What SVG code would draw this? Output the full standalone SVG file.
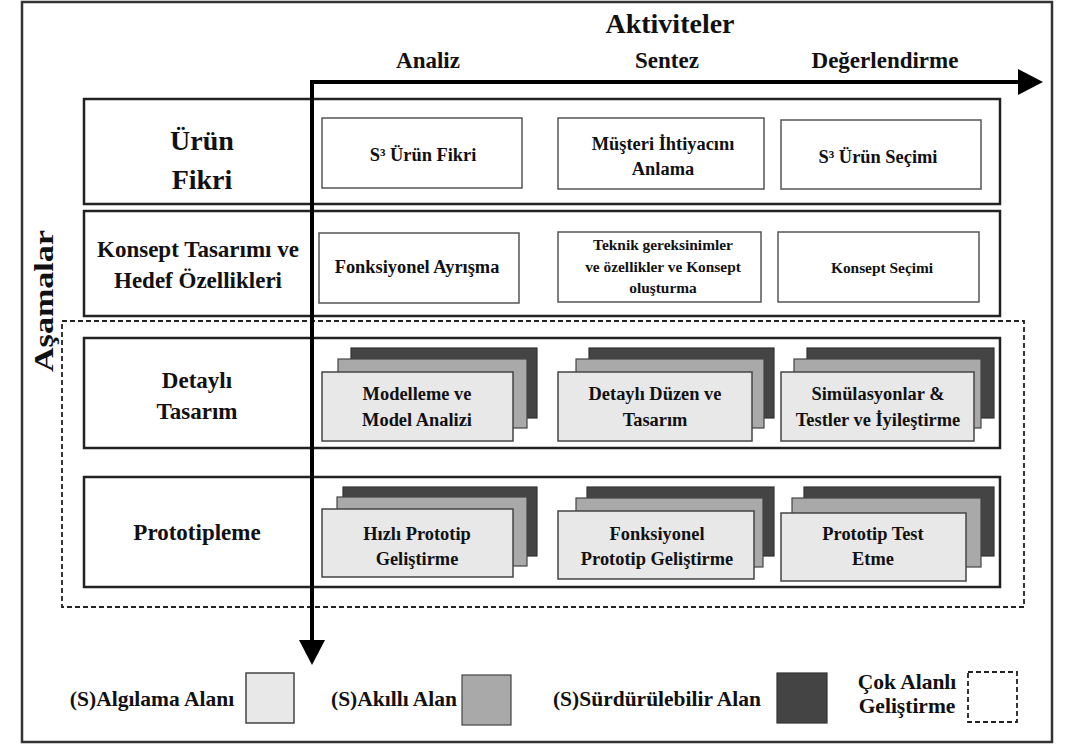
<svg xmlns="http://www.w3.org/2000/svg" width="1089" height="744" viewBox="0 0 1089 744">
  <defs>
    <style>
      text { font-family: "Liberation Serif", "Times New Roman", serif; font-weight: bold; fill: #111; text-anchor: middle; }
      .frame { fill: #fff; stroke: #333; stroke-width: 2.5; }
      .row { fill: #fff; stroke: #222; stroke-width: 2.5; }
      .cell { fill: #fff; stroke: #555; stroke-width: 1.5; }
      .sense { fill: #e8e8e8; stroke: #444; stroke-width: 1.5; }
      .smart { fill: #a9a9a9; stroke: #444; stroke-width: 1.2; }
      .sust { fill: #444; stroke: #333; stroke-width: 1.2; }
      .dash { fill: none; stroke: #222; stroke-width: 1.8; stroke-dasharray: 5 3; }
      .axis { fill: none; stroke: #000; stroke-width: 4; }
      .t-title { font-size: 28px; }
      .t-col { font-size: 23px; }
      .t-phase { font-size: 23px; }
      .t-big { font-size: 28px; }
      .t-cell { font-size: 18.4px; }
      .t-small { font-size: 15.4px; }
      .t-leg { font-size: 21.5px; }
    </style>
    <marker id="head" markerUnits="userSpaceOnUse" markerWidth="25" markerHeight="26" refX="0" refY="13" orient="auto">
      <path d="M0,0 L25,13 L0,26 Z" fill="#000"/>
    </marker>
  </defs>

  <!-- outer frame -->
  <rect class="frame" x="22" y="2" width="1030" height="740"/>

  <!-- headings -->
  <text class="t-title" x="670" y="33">Aktiviteler</text>
  <text class="t-col" x="428" y="68">Analiz</text>
  <text class="t-col" x="667" y="68">Sentez</text>
  <text class="t-col" x="885" y="68">Değerlendirme</text>
  <text class="t-big" transform="translate(53,301) rotate(-90)" textLength="142" lengthAdjust="spacingAndGlyphs">Aşamalar</text>

  <!-- multi-domain development region -->
  <rect id="cok-alanli" class="dash" x="62" y="321" width="962" height="286"/>

  <!-- phase 1: product idea -->
  <g id="urun-fikri">
    <rect class="row" x="84" y="99" width="916" height="105"/>
    <text class="t-big" x="202" y="150">Ürün</text>
    <text class="t-big" x="202" y="189">Fikri</text>
    <g id="s3-urun-fikri">
      <rect class="cell" x="322" y="118" width="200" height="70"/>
      <text class="t-cell" x="423" y="161">S³ Ürün Fikri</text>
    </g>
    <g id="musteri-ihtiyaci">
      <rect class="cell" x="558" y="118" width="206" height="71"/>
      <text class="t-cell" x="663" y="150">Müşteri İhtiyacını</text>
      <text class="t-cell" x="663" y="175">Anlama</text>
    </g>
    <g id="s3-urun-secimi">
      <rect class="cell" x="781" y="120" width="200" height="69"/>
      <text class="t-cell" x="878" y="163">S³ Ürün Seçimi</text>
    </g>
  </g>

  <!-- phase 2: concept design -->
  <g id="konsept-tasarimi">
    <rect class="row" x="84" y="211" width="916" height="105"/>
    <text class="t-phase" x="198" y="257">Konsept Tasarımı ve</text>
    <text class="t-phase" x="198" y="288">Hedef Özellikleri</text>
    <g id="fonksiyonel-ayrisma">
      <rect class="cell" x="319" y="233" width="200" height="70"/>
      <text class="t-cell" x="417" y="273">Fonksiyonel Ayrışma</text>
    </g>
    <g id="teknik-gereksinimler">
      <rect class="cell" x="558" y="232" width="203" height="70"/>
      <text class="t-small" x="663" y="250">Teknik gereksinimler</text>
      <text class="t-small" x="663" y="272">ve özellikler ve Konsept</text>
      <text class="t-small" x="663" y="293">oluşturma</text>
    </g>
    <g id="konsept-secimi">
      <rect class="cell" x="778" y="232" width="201" height="70"/>
      <text class="t-small" x="882" y="273">Konsept Seçimi</text>
    </g>
  </g>

  <!-- phase 3: detailed design -->
  <g id="detayli-tasarim">
    <rect class="row" x="84" y="338" width="916" height="110"/>
    <text class="t-phase" x="197" y="388">Detaylı</text>
    <text class="t-phase" x="197" y="419">Tasarım</text>
    <g id="modelleme">
      <rect class="sust" x="351" y="348" width="186" height="70"/>
      <rect class="smart" x="338" y="359" width="189" height="69"/>
      <rect class="sense" x="322" y="372" width="191" height="69"/>
      <text class="t-cell" x="417" y="400">Modelleme ve</text>
      <text class="t-cell" x="417" y="426">Model Analizi</text>
    </g>
    <g id="detayli-duzen">
      <rect class="sust" x="589" y="348" width="185" height="70"/>
      <rect class="smart" x="576" y="359" width="188" height="69"/>
      <rect class="sense" x="558" y="372" width="194" height="69"/>
      <text class="t-cell" x="655" y="400">Detaylı Düzen ve</text>
      <text class="t-cell" x="655" y="426">Tasarım</text>
    </g>
    <g id="simulasyonlar">
      <rect class="sust" x="807" y="348" width="187" height="70"/>
      <rect class="smart" x="794" y="359" width="187" height="69"/>
      <rect class="sense" x="781" y="372" width="193" height="69"/>
      <text class="t-cell" x="878" y="400">Simülasyonlar &amp;</text>
      <text class="t-cell" x="878" y="426">Testler ve İyileştirme</text>
    </g>
  </g>

  <!-- phase 4: prototyping -->
  <g id="prototipleme">
    <rect class="row" x="84" y="477" width="916" height="110"/>
    <text class="t-phase" x="197" y="540">Prototipleme</text>
    <g id="hizli-prototip">
      <rect class="sust" x="343" y="487" width="194" height="69"/>
      <rect class="smart" x="337" y="497" width="190" height="69"/>
      <rect class="sense" x="322" y="509" width="191" height="68"/>
      <text class="t-cell" x="417" y="540">Hızlı Prototip</text>
      <text class="t-cell" x="417" y="565">Geliştirme</text>
    </g>
    <g id="fonksiyonel-prototip">
      <rect class="sust" x="587" y="487" width="187" height="69"/>
      <rect class="smart" x="576" y="498" width="187" height="69"/>
      <rect class="sense" x="558" y="511" width="196" height="68"/>
      <text class="t-cell" x="657" y="540">Fonksiyonel</text>
      <text class="t-cell" x="657" y="565">Prototip Geliştirme</text>
    </g>
    <g id="prototip-test">
      <rect class="sust" x="804" y="487" width="190" height="69"/>
      <rect class="smart" x="792" y="498" width="189" height="69"/>
      <rect class="sense" x="781" y="513" width="185" height="68"/>
      <text class="t-cell" x="873" y="540">Prototip Test</text>
      <text class="t-cell" x="873" y="565">Etme</text>
    </g>
  </g>

  <!-- axes -->
  <g id="connectors">
    <path class="axis" d="M310,82 H1018" marker-end="url(#head)"/>
    <path class="axis" d="M312,80 V640" marker-end="url(#head)"/>
  </g>

  <!-- legend -->
  <g id="legend">
    <text class="t-leg" x="152" y="706">(S)Algılama Alanı</text>
    <rect class="sense" x="246" y="673" width="48" height="50"/>
    <text class="t-leg" x="394" y="706">(S)Akıllı Alan</text>
    <rect class="smart" x="462" y="675" width="49" height="50"/>
    <text class="t-leg" x="657" y="706">(S)Sürdürülebilir Alan</text>
    <rect class="sust" x="777" y="673" width="50" height="50"/>
    <text class="t-leg" x="907" y="689">Çok Alanlı</text>
    <text class="t-leg" x="907" y="713">Geliştirme</text>
    <rect class="dash" x="968" y="672" width="49" height="50"/>
  </g>
</svg>
